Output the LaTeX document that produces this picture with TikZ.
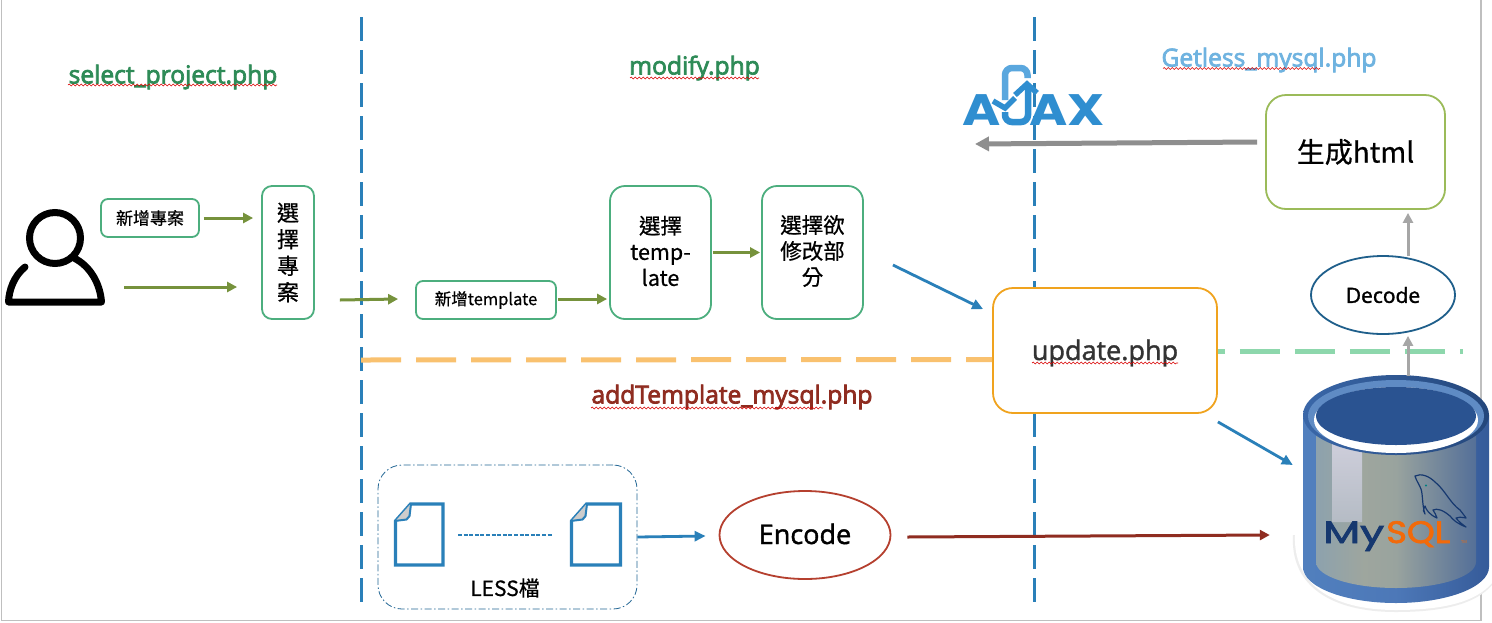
\documentclass[tikz,border=0pt]{standalone}
\usepackage{fontspec}
\setmainfont{Noto Sans CJK TC}[FakeBold=0.6]
\newfontfamily\latinfont{Open Sans}
\newfontfamily\semifont{Open Sans}[FakeBold=3]
\newfontfamily\midfont{Open Sans}[FakeBold=1.5]
\newfontfamily\logofont{Poppins}[FakeBold=2.2]
\usetikzlibrary{calc,arrows.meta,decorations.pathmorphing,shapes.geometric}
\definecolor{dashblue}{HTML}{2A80B9}
\definecolor{boxgreen}{HTML}{4CAE7E}
\definecolor{olive}{HTML}{76923C}
\definecolor{titlegreen}{HTML}{2E8B57}
\definecolor{titlered}{HTML}{8F2C20}
\definecolor{titleblue}{HTML}{6FB3E0}
\definecolor{arrowgray}{HTML}{A6A6A6}
\definecolor{darkgray}{HTML}{8E8E8E}
\definecolor{dbblue}{HTML}{2A5391}
\definecolor{dbring}{HTML}{5F8BC4}
\definecolor{dbedge}{HTML}{3A67A8}
\definecolor{ajaxblue}{HTML}{2F8ED0}
\definecolor{ajaxlight}{HTML}{5AA7DE}
\definecolor{dashorange}{HTML}{F9C16F}
\definecolor{dashgreen}{HTML}{8DD7AC}
\definecolor{genbox}{HTML}{9BBB59}
\definecolor{updbox}{HTML}{F0A31E}
\definecolor{encred}{HTML}{B5402F}
\definecolor{decblue}{HTML}{1F5F8B}
\definecolor{mysqlblue}{HTML}{16386F}
\definecolor{mysqlorange}{HTML}{F26A0A}
\pgfdeclarehorizontalshading{dbbody}{100bp}{
  rgb(0bp)=(.36,.53,.74);
  rgb(10bp)=(.42,.58,.73);
  rgb(20bp)=(.53,.63,.70);
  rgb(40bp)=(.62,.65,.62);
  rgb(50bp)=(.60,.64,.62);
  rgb(72bp)=(.36,.46,.60);
  rgb(90bp)=(.19,.33,.57);
  rgb(100bp)=(.16,.30,.55)}
\pgfdeclarehorizontalshading{dbrim}{100bp}{
  rgb(0bp)=(.28,.46,.71);
  rgb(8bp)=(.33,.52,.76);
  rgb(50bp)=(.30,.47,.72);
  rgb(92bp)=(.15,.28,.52);
  rgb(100bp)=(.12,.24,.47)}
\tikzset{
  x=1pt,y=-1pt,
  title/.style={font=\semifont\fontsize{24.6}{28}\selectfont,inner sep=0pt,anchor=center},
  spell/.style={draw=red!85!black,line width=0.6pt,decorate,decoration={snake,amplitude=0.9pt,segment length=4pt}},
  gbox/.style={draw=boxgreen,line width=1.8pt,rounded corners=15pt,inner sep=0pt},
  boxtext/.style={align=center,inner sep=0pt,yshift=1.5pt,font=\fontsize{21.5}{26}\selectfont},
  sbox/.style={draw=boxgreen,line width=1.8pt,rounded corners=7pt,inner sep=0pt},
  vdash/.style={draw=dashblue,line width=3pt,dash pattern=on 24pt off 9pt},
  oarrow/.style={draw=olive,line width=3pt,-{Triangle[length=10pt,width=10pt]}},
  barrow/.style={draw=dashblue,line width=2.8pt,-{Triangle[length=11pt,width=10pt]}},
  garrow/.style={draw=arrowgray,line width=3pt,-{Triangle[length=10pt,width=10pt]}},
  doc/.style={draw=dashblue,line width=3.2pt,fill=white,line join=miter},
}
\begin{document}
\begin{tikzpicture}
\useasboundingbox (0,0) rectangle (1492,622);
\fill[white] (0,0) rectangle (1492,622);
% frame
\draw[black!25,line width=1.2pt] (1.2,0) -- (1.2,620.4) -- (1481,620.4) -- (1481,0);
% dashed separators
\coordinate (vl1) at (361,17); \coordinate (vl2) at (361,603);
\coordinate (vr1) at (1034,17); \coordinate (vr2) at (1034,603);
\draw[vdash] (vl1) -- (vl2);
\draw[vdash] (vr1) -- (vr2);

% titles
\node[title,text=titlegreen] (t1) at (173,77) {select\_project.php};
\node[title,text=titlegreen] (t2) at (694.5,68) {modify.php};
\node[title,text=titleblue] (t3) at (1269,60) {Getless\_mysql.php};
\node[title,text=titlered] (t4) at (732,397) {addTemplate\_mysql.php};
\draw[spell] (68,85) -- (277,85);
\draw[spell] (630,78) -- (759,78);
\draw[spell] (1163,68.5) -- (1320,68.5);
\draw[spell] (591,408) -- (823,408);

% person
\node[minimum width=100pt,minimum height=95pt,inner sep=0pt] (person) at (55,257) {};
\draw[black,line width=7pt] (55,238) circle (25.5);
\draw[black,line width=7pt,line cap=round,line join=round]
  (25,267) .. controls (14,276) and (9,290) .. (8.5,302) -- (101.5,302)
  .. controls (100,283) and (90,266) .. (74,258);

% green boxes
\node[sbox,minimum width=98pt,minimum height=38pt,font=\fontsize{17}{20}\selectfont] (newp) at (150,218) {新增專案};
\node[gbox,align=center,minimum width=52pt,minimum height=133pt,rounded corners=10pt,font=\fontsize{22}{26.5}\selectfont] (selp) at (288,252.5) {選\\擇\\專\\案};
\node[sbox,minimum width=140pt,minimum height=38pt,font=\fontsize{16.5}{20}\selectfont] (newt) at (486,300) {新增template};
\node[gbox,minimum width=101pt,minimum height=133pt,label={[boxtext]center:選擇\\temp-\\late}] (selt) at (660.5,252.5) {};
\node[gbox,minimum width=101pt,minimum height=133pt,label={[boxtext]center:選擇欲\\修改部\\分}] (selm) at (812.5,252.5) {};

% update
\node[fill=white,draw=updbox,line width=1.8pt,rounded corners=20pt,minimum width=224pt,minimum height=125pt,inner sep=0pt,font=\midfont\fontsize{27}{32}\selectfont,text=black!80] (upd) at (1105,350.5) {\raisebox{-9.5pt}[0pt][0pt]{update.php}};
\draw[spell] (1032,363) -- (1178,363);

% horizontal dashed lines
\coordinate (hg) at (1463,351.5);
\draw[draw=dashorange,line width=5pt,dash pattern=on 40pt off 15pt] ($(vl1 |- upd.west)+(0,9.5)$) -- ($(upd.west)+(0,9)$);
\draw[draw=dashgreen,line width=5pt,dash pattern=on 7pt off 15pt on 40pt off 15pt on 40pt off 15pt on 40pt off 15pt on 40pt off 15pt on 6pt] ($(upd.east)+(0,1)$) -- (hg);

% right column
\node[draw=genbox,line width=1.8pt,rounded corners=20pt,minimum width=179pt,minimum height=114pt,inner sep=0pt,font=\fontsize{28}{32}\selectfont] (gen) at (1355.5,152) {生成html};
\node[draw=decblue,line width=1.8pt,ellipse,minimum width=144pt,minimum height=78pt,inner sep=0pt,font=\midfont\fontsize{21}{26}\selectfont] (dec) at (1383,295) {Decode};

% LESS group
\node[draw=dashblue!80!black,line width=0.8pt,rounded corners=24pt,dash pattern=on 7pt off 2.5pt on 1.5pt off 2.5pt,minimum width=259pt,minimum height=144pt,inner sep=0pt] (less) at (507.5,537) {};
\begin{scope}[shift={(395.5,504)}]
  \draw[doc] (15,0) -- (47.5,0) -- (47.5,61) -- (0,61) -- (0,17) -- cycle;
  \fill[black!20] (15,0) -- (15,12) -- (13,15) -- (0,17) -- cycle;
  \draw[dashblue,line width=2pt,line join=round] (15.5,0) -- (14,12) -- (11,15.5) -- (-1,17);
\end{scope}
\begin{scope}[shift={(571.5,504)}]
  \draw[doc] (15,0) -- (49,0) -- (49,61) -- (0,61) -- (0,17) -- cycle;
  \fill[black!20] (15,0) -- (15,12) -- (13,15) -- (0,17) -- cycle;
  \draw[dashblue,line width=2pt,line join=round] (15.5,0) -- (14,12) -- (11,15.5) -- (-1,17);
\end{scope}
\node[inner sep=0pt,minimum size=0pt] (docl) at (443,534) {};
\node[inner sep=0pt,minimum size=0pt] (docr) at (570,534) {};
\draw[draw=dashblue,line width=1.6pt,dash pattern=on 4pt off 1.6pt] ($(docl)+(15,1)$) -- ($(docr)+(-18,1)$);
\node[font=\fontsize{21}{25}\selectfont,inner sep=0pt] (lesst) at (505,588) {LESS檔};

% Encode
\node[draw=encred,line width=1.8pt,ellipse,minimum width=171pt,minimum height=88pt,inner sep=0pt,font=\midfont\fontsize{27}{32}\selectfont] (enc) at (805,535) {\raisebox{-9pt}[0pt][0pt]{Encode}};

% MySQL cylinder
\fill[black!7] (1293,535) .. controls (1290,585) and (1330,612) .. (1396,612) .. controls (1440,612) and (1475,605) .. (1492,585) -- (1492,535) -- cycle;
\fill[white] (1295,535) .. controls (1293,583) and (1330,610) .. (1396,610) .. controls (1440,610) and (1475,603) .. (1492,583) -- (1492,535) -- cycle;
\node[inner sep=0pt,minimum width=186pt,minimum height=228pt] (db) at (1396,489) {};
\shade[shading=dbrim] (1303,415) -- (1303,567) arc[start angle=180,end angle=0,x radius=93,y radius=36] -- (1489,415) -- cycle;
\shade[shading=dbbody] (1316,430) -- (1316,562) arc[start angle=180,end angle=0,x radius=80,y radius=26] -- (1476,430) -- cycle;
\shade[top color=black!15!white!95!blue,bottom color=dbring!45!black!35!white] (1332,443) -- (1362,452) -- (1362,522) -- (1332,522) -- cycle;
\shade[left color=dbedge,right color=dbblue!85!black] (1396,415) ellipse [x radius=93,y radius=40];
\fill[dbring] (1396,416) ellipse [x radius=88,y radius=36];
\fill[white] (1396,420) ellipse [x radius=82,y radius=33];
\fill[dbblue] (1396,416) ellipse [x radius=80,y radius=29];
% dolphin
\draw[mysqlblue,line width=1.2pt,line join=round]
  (1415,476) .. controls (1421,473) and (1429,476) .. (1435,482)
  .. controls (1445,490) and (1450,503) .. (1460,510)
  .. controls (1462,513) and (1465,516) .. (1466,518)
  .. controls (1461,517) and (1458,517) .. (1456,518)
  .. controls (1459,522) and (1462,524) .. (1466,527)
  .. controls (1458,524) and (1453,520) .. (1450,516)
  .. controls (1443,510) and (1437,508) .. (1433,510)
  .. controls (1435,513) and (1436,515) .. (1437,518)
  .. controls (1430,515) and (1426,510) .. (1425,506)
  .. controls (1423,510) and (1423,512) .. (1425,514)
  .. controls (1422,505) and (1423,495) .. (1421,489)
  .. controls (1419,484) and (1416,480) .. (1415,476) -- cycle;
\fill[teal] (1426,485.5) circle (1.2);
% logo text
\node[anchor=base west,inner sep=0pt,text=mysqlblue,font=\logofont\fontsize{31}{36}\selectfont,xscale=1.38] (my) at (1323,543) {My};
\node[anchor=base west,inner sep=0pt,text=mysqlorange,font=\logofont\fontsize{31}{36}\selectfont,xscale=1.14] (sql) at (1386,543) {SQL};
\node[anchor=base west,inner sep=0pt,text=mysqlorange,font=\latinfont\fontsize{4}{5}\selectfont] (tm) at (1461,543) {TM};

% AJAX logo
\node[anchor=base west,inner sep=0pt,text=ajaxblue,font=\fontspec{Poppins}\fontsize{44}{48}\selectfont\bfseries,xscale=1.18] (aj1) at (962,125) {A};
\node[anchor=base west,inner sep=0pt,text=ajaxblue,font=\fontspec{Poppins}\fontsize{44}{48}\selectfont\bfseries,xscale=1.18] (aj2) at (1029,125) {AX};
\draw[ajaxlight,line width=6.5pt,rounded corners=7pt] (1005,100) -- (1005,68) -- (1027.5,68) -- (1027.5,78);
\draw[ajaxblue,line width=6.5pt,rounded corners=7pt] (1028,88) -- (1028,122) -- (1005,122) -- (1005,112);
\draw[ajaxblue,line width=5.5pt] (1015,98) -- (1005,108) -- (993,101);
\draw[ajaxblue,line width=5.5pt] (1015,95) -- (1027,84) -- (1037,93);

% connectors
\draw[oarrow,shorten <=4pt,shorten >=8pt] (newp.east) -- (selp.west |- newp.east);
\draw[oarrow] ($(person.east)+(19,30)$) -- ($(selp.west)+(-24,34.5)$);
\draw[oarrow] ($(selp.east)+(25,47.5)$) -- ($(newt.west)+(-17,-1)$);
\draw[oarrow,shorten <=1pt,shorten >=2pt] ($(newt.east)+(0,-1)$) -- ($(selt.west)+(0,46.5)$);
\draw[oarrow,shorten <=1pt,shorten >=1pt] (selt.east) -- (selm.west);
\draw[barrow] ($(selm.east)+(29,12.5)$) -- ($(upd.north west)+(-9,22)$);
\draw[barrow] ($(upd.south east)+(0,8)$) -- ($(db.west)+(-10,-24)$);
\draw[barrow] (less.east) -- ($(enc.west)+(-13,1)$);
\draw[draw=titlered,line width=3pt,-{Triangle[length=10pt,width=10pt]}] ($(enc.east)+(16,2)$) -- ($(db.west)+(-33,46)$);
\draw[garrow] ($(db.north)+(12,1)$) -- ($(dec.south)+(25,1)$);
\draw[garrow] ($(dec.north)+(25,1)$) -- ($(gen.south)+(52.5,3)$);
\draw[draw=darkgray,line width=5pt,-{Triangle[length=14pt,width=14pt]}] ($(gen.west)+(-8,-10)$) -- (975,144);
\end{tikzpicture}
\end{document}
